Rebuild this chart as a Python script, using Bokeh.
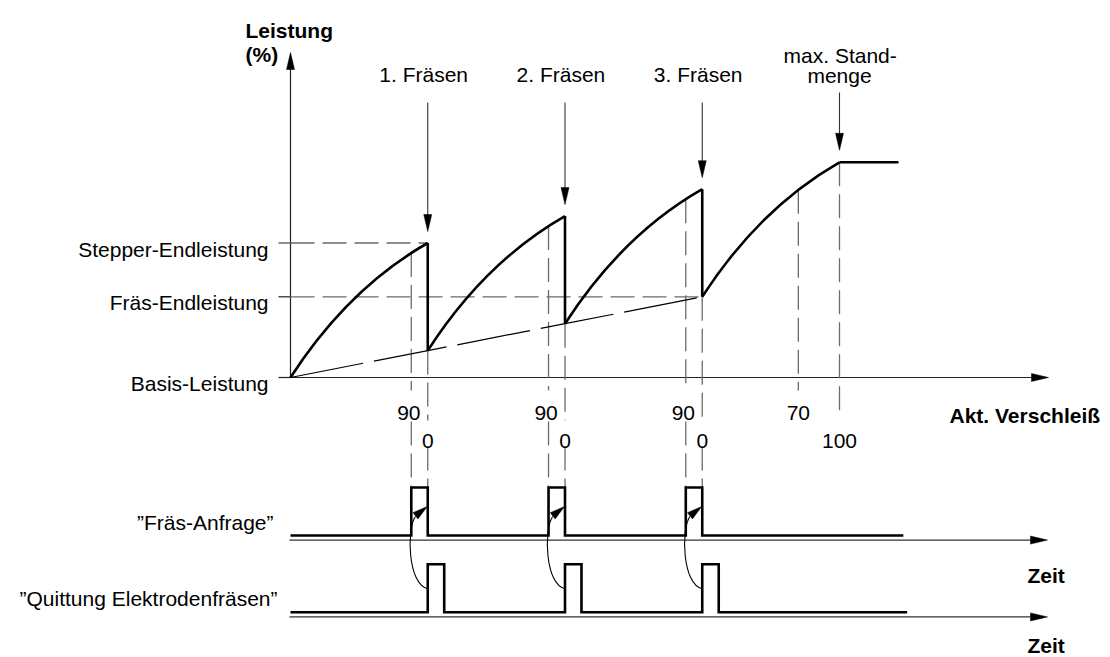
import math
from bokeh.plotting import figure
from bokeh.models import Range1d
from bokeh.core.properties import value
from bokeh.embed import file_html
from bokeh.resources import INLINE

# ---------------- data ----------------
# Leistung (%) over "Akt. Verschleiß" (time units; one wear cycle = 100)
cycle_start_t = [0, 100, 200, 300]
cycle_end_t = [100, 200, 300, 400]
cycle_start_level = [0, 20, 40, 60]
cycle_peak_level = [100, 120, 140, 160]
plateau_end_t = 443
curve_bend = (0.418, 0.661)

level_names = ["Stepper-Endleistung", "Fräs-Endleistung", "Basis-Leistung"]
level_values = [100, 60, 0]
hline_end_t = [100, 300]              # dashed guides for Stepper / Fräs level
hline_levels = [100, 60]

event_labels = ["1. Fräsen", "2. Fräsen", "3. Fräsen"]
event_t = [100, 200, 300]             # wear 0 (reset after milling)
request_t = [88, 188, 288]            # wear 90 -> milling request
tick90_labels = ["90", "90", "90"]
tick0_labels = ["0", "0", "0"]
mark70_t, mark100_t = 370, 400
max_label = ["max. Stand-", "menge"]

ack_len = 12                          # length of acknowledge pulse
req_end_t = 446.5
ack_end_t = 449.3
signal_names = ["\u201dFräs-Anfrage\u201d", "\u201dQuittung Elektrodenfräsen\u201d"]
REQ_BASE, ACK_BASE, PULSE_H = 0.0, -1.6, 1.0

# ---------------- layout / styles ----------------
W, H = 1110, 657
PAGE_X0, PAGE_Y0 = 0, 0
SX = 1.3725          # px per time unit
SY = 1.345           # px per power unit
SS = 48.0            # px per signal unit
X_ORIGIN_PX, Y_ORIGIN_PX, SIG_ORIGIN_PX = 290 - PAGE_X0, 377 - PAGE_Y0, 535 - PAGE_Y0

FONT = value("Liberation Sans")
FS = "21px"
GRAY = "#6b6b6b"
DASH = "24 8"

x0 = -X_ORIGIN_PX / SX
p = figure(width=W, height=H, output_backend="svg", toolbar_location=None,
           x_axis_type=None, y_axis_type=None, min_border=0,
           x_range=Range1d(x0, x0 + W / SX),
           y_range=Range1d(-(H - Y_ORIGIN_PX) / SY, Y_ORIGIN_PX / SY))
p.extra_y_ranges = {"sig": Range1d(-(H - SIG_ORIGIN_PX) / SS, SIG_ORIGIN_PX / SS)}
p.outline_line_color = None
p.grid.visible = False
p.background_fill_color = "white"
p.border_fill_color = "white"


def px_t(px):
    return px / SX


def px_l(px):
    return px / SY


def px_s(px):
    return px / SS


def bend_y(frac):
    cx, cy = curve_bend
    a, b = 1 - 2 * cx, 2 * cx
    s = (-b + math.sqrt(b * b + 4 * a * frac)) / (2 * a)
    return 2 * s * (1 - s) * cy + s * s


def head(xt, yt, ux, uy, sx, sy, L=17, Wd=8):
    n = math.hypot(ux, uy)
    ux, uy = ux / n, uy / n
    bx, by = -L * ux, -L * uy
    qx, qy = -uy, ux
    pts = [(0, 0), (bx + Wd / 2 * qx, by + Wd / 2 * qy), (bx - Wd / 2 * qx, by - Wd / 2 * qy)]
    return [xt + a / sx for a, _ in pts], [yt + b / sy for _, b in pts]


# ---------------- axes of the Leistung diagram ----------------
y_tip = px_l(377 - 52)
x_tip = px_t(1048 - 290)
p.segment(x0=[0, 0], y0=[0, 0], x1=[0, x_tip - px_t(6)], y1=[y_tip - px_l(6), 0],
          line_color="#222222", line_width=1.2)
p.segment(x0=[-px_t(12)] * 3, y0=level_values, x1=[0] * 3, y1=level_values,
          line_color="#222222", line_width=1.2)

# dashed guides
p.segment(x0=[0, 0], y0=hline_levels, x1=hline_end_t, y1=hline_levels,
          line_color=GRAY, line_width=1.3, line_dash=DASH)

# vertical guides (split around the tick labels)
vx0, vy0, vx1, vy1 = [], [], [], []
for i, rt in enumerate(request_t):
    frac = (rt - cycle_start_t[i]) / (cycle_end_t[i] - cycle_start_t[i])
    vx0.append(rt); vy0.append(cycle_start_level[i] + 100 * bend_y(frac))
    vx1.append(rt); vy1.append(-px_l(13))
for i, et in enumerate(event_t):
    vx0.append(et); vy0.append(cycle_start_level[i + 1])
    vx1.append(et); vy1.append(-px_l(43))
frac70 = (mark70_t - cycle_start_t[3]) / 100
vx0.append(mark70_t); vy0.append(cycle_start_level[3] + 100 * bend_y(frac70))
vx1.append(mark70_t); vy1.append(-px_l(13))
vx0.append(mark100_t); vy0.append(cycle_peak_level[3])
vx1.append(mark100_t); vy1.append(-px_l(39))
p.segment(x0=vx0, y0=vy0, x1=vx1, y1=vy1, line_color=GRAY, line_width=1.3, line_dash=DASH)

# lower parts down to the request pulses (signal range)
lx0 = request_t + event_t
ly0 = [px_s(535 - 421)] * 3 + [px_s(535 - 446)] * 3
p.segment(x0=lx0, y0=ly0, x1=lx0, y1=[REQ_BASE + PULSE_H] * 6, y_range_name="sig",
          line_color=GRAY, line_width=1.3, line_dash=DASH)

# base-power line (long dashes)
p.line(cycle_start_t, cycle_start_level, line_color="black", line_width=1.2, line_dash="74 11")

# Leistung curves
cx = [s + curve_bend[0] * (e - s) for s, e in zip(cycle_start_t, cycle_end_t)]
cy = [sl + curve_bend[1] * (pk - sl) for sl, pk in zip(cycle_start_level, cycle_peak_level)]
p.quadratic(x0=cycle_start_t, y0=cycle_start_level, x1=cycle_end_t, y1=cycle_peak_level,
            cx=cx, cy=cy, line_color="black", line_width=2.6)
p.segment(x0=event_t, y0=cycle_peak_level[:3], x1=event_t, y1=cycle_start_level[1:],
          line_color="black", line_width=2.6)
p.line([cycle_end_t[3], plateau_end_t], [cycle_peak_level[3]] * 2, line_color="black", line_width=2.6)

# event arrows
arrow_top = px_l(377 - 102)
tips = [pk + px_l(11.5) for pk in cycle_peak_level[:3]]
p.segment(x0=event_t, y0=[arrow_top] * 3, x1=event_t, y1=[t + px_l(10) for t in tips],
          line_color="#333333", line_width=1.1)
mx_top, mx_tip = px_l(377 - 92), cycle_peak_level[3] + px_l(12)
p.segment(x0=[mark100_t], y0=[mx_top], x1=[mark100_t], y1=[mx_tip + px_l(10)],
          line_color="#333333", line_width=1.1)
hx, hy = [], []
for et, tp in zip(event_t + [mark100_t], tips + [mx_tip]):
    a, b = head(et, tp, 0, -1, SX, SY)
    hx.append(a); hy.append(b)
a, b = head(0, y_tip, 0, 1, SX, SY); hx.append(a); hy.append(b)
a, b = head(x_tip, 0, 1, 0, SX, SY); hx.append(a); hy.append(b)
p.patches(hx, hy, fill_color="black", line_color="black", line_width=0.5)

# ---------------- signals ----------------
def pulse_train(starts, length, base, end):
    xs, ys = [0], [base]
    for s in starts:
        xs += [s, s, s + length, s + length]
        ys += [base, base + PULSE_H, base + PULSE_H, base]
    xs.append(end); ys.append(base)
    return xs, ys


rx, ry = pulse_train(request_t, event_t[0] - request_t[0], REQ_BASE, req_end_t)
p.line(rx, ry, y_range_name="sig", line_color="black", line_width=2.6, line_join="miter")
ax_, ay_ = pulse_train(event_t, ack_len, ACK_BASE, ack_end_t)
p.line(ax_, ay_, y_range_name="sig", line_color="black", line_width=2.6, line_join="miter")

sig_tip = px_t(1047 - 290)
axis_off = px_s(4.6)
p.segment(x0=[px_t(-1)] * 2, y0=[REQ_BASE - axis_off, ACK_BASE - axis_off],
          x1=[sig_tip - px_t(6)] * 2, y1=[REQ_BASE - axis_off, ACK_BASE - axis_off],
          y_range_name="sig", line_color="#333333", line_width=1.1)

# curved "acknowledge -> request" arrows
p.bezier(x0=event_t, y0=[ACK_BASE + 0.49] * 3,
         cx0=[e - px_t(20.2) for e in event_t], cy0=[ACK_BASE + 0.58] * 3,
         cx1=[e - px_t(21.2) for e in event_t], cy1=[px_s(7)] * 3,
         x1=[e - px_t(12.3) for e in event_t], y1=[px_s(19)] * 3,
         y_range_name="sig", line_color="black", line_width=1.1)
sx_, sy_ = [], []
for base in [REQ_BASE - axis_off, ACK_BASE - axis_off]:
    a, b = head(sig_tip, base, 1, 0, SX, SS); sx_.append(a); sy_.append(b)
for e in event_t:
    a, b = head(e - px_t(0.5), px_s(29), 12.7, 10, SX, SS, L=15, Wd=8)
    sx_.append(a); sy_.append(b)
p.patches(sx_, sy_, y_range_name="sig", fill_color="black", line_color="black", line_width=0.5)

# ---------------- texts ----------------
def txt(x, y, t, align="left", bold=False, rng="default"):
    kw = dict(text_font=FONT, text_font_size=FS, text_align=align, text_baseline="alphabetic",
              text_color="black", text_font_style="bold" if bold else "normal")
    if rng != "default":
        kw["y_range_name"] = rng
    p.text(x=x, y=y, text=t, **kw)


txt([px_t(245 - 290)] * 2, [px_l(377 - 29.5), px_l(377 - 54)], ["Leistung", "(%)"], bold=True)
txt([px_t(-22)] * 3, [v - px_l(6) for v in level_values], level_names, align="right")
txt([e - 3 for e in event_t], [px_l(377 - 73.5)] * 3, event_labels, align="center")
txt([mark100_t + 0.5, mark100_t], [px_l(377 - 54.5), px_l(377 - 74.5)], max_label, align="center")
txt([r - 1.8 for r in request_t] + [mark70_t], [-px_l(412 - 377)] * 4, tick90_labels + ["70"], align="center")
txt(event_t + [mark100_t], [-px_l(440 - 377)] * 4, tick0_labels + ["100"], align="center")
txt([px_t(949 - 290)], [-px_l(415 - 377)], ["Akt. Verschleiß"], bold=True)
txt([px_t(273 - 290), px_t(277 - 290)], [px_s(535 - 521.5), px_s(535 - 598)], signal_names,
    align="right", rng="sig")
txt([px_t(1027 - 290)] * 2, [px_s(535 - 575), px_s(535 - 645)], ["Zeit", "Zeit"], bold=True, rng="sig")

open("out.html", "w").write(file_html(p, INLINE))
